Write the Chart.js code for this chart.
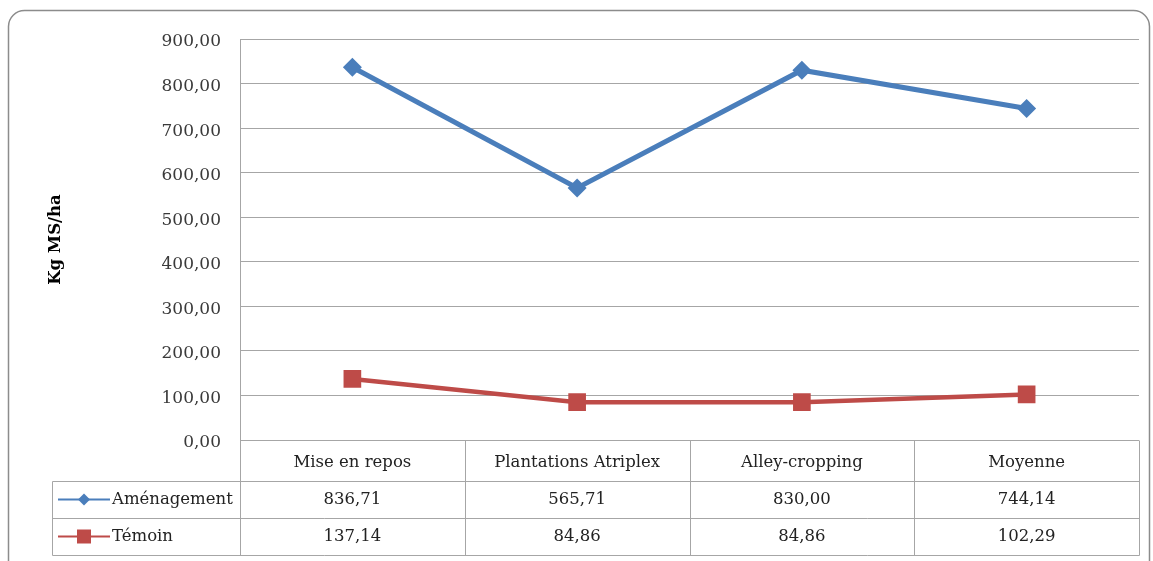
<!DOCTYPE html>
<html>
<head>
<meta charset="utf-8">
<title>Kg MS/ha</title>
<script src="https://cdn.jsdelivr.net/npm/chart.js"></script>
<style>
  html, body { margin: 0; padding: 0; background: #fff; }
  canvas { display: block; }
</style>
</head>
<body>
<canvas id="chart" width="1153" height="561"></canvas>
<script>
const categories = ['Mise en repos', 'Plantations Atriplex', 'Alley-cropping', 'Moyenne'];
const seriesNames = ['Aménagement', 'Témoin'];
const amenagement = [836.71, 565.71, 830.00, 744.14];
const temoin = [137.14, 84.86, 84.86, 102.29];
const yTicks = [0, 100, 200, 300, 400, 500, 600, 700, 800, 900];

const BLUE = '#4a7ebb';
const RED = '#be4b48';
const GRID = '#a6a6a6';
const SERIF = '"DejaVu Serif", serif';

const fmt = v => v.toFixed(2).replace('.', ',');

// rounded frame around the whole chart (Excel style)
const framePlugin = {
  id: 'frame',
  beforeDraw(chart) {
    const ctx = chart.ctx;
    ctx.save();
    ctx.strokeStyle = '#8c8c8c';
    ctx.lineWidth = 1.5;
    const x = 8.5, y = 10.5, w = 1141, h = 600, r = 16;
    ctx.beginPath();
    ctx.moveTo(x + r, y);
    ctx.lineTo(x + w - r, y);
    ctx.arcTo(x + w, y, x + w, y + r, r);
    ctx.lineTo(x + w, y + h);
    ctx.lineTo(x, y + h);
    ctx.lineTo(x, y + r);
    ctx.arcTo(x, y, x + r, y, r);
    ctx.stroke();
    ctx.restore();
  }
};

// data table under the plot, driven by the x scale
const tablePlugin = {
  id: 'dataTable',
  afterDraw(chart) {
    const ctx = chart.ctx;
    const xs = chart.scales.x;
    const area = chart.chartArea;
    const step = xs.getPixelForValue(1) - xs.getPixelForValue(0);
    const top = area.bottom;
    const rowH = [41, 37, 37];
    const y1 = top + rowH[0], y2 = y1 + rowH[1], y3 = y2 + rowH[2];
    const leftX = 52;

    ctx.save();
    ctx.strokeStyle = GRID;
    ctx.lineWidth = 1;
    const line = (ax, ay, bx, by) => {
      ctx.beginPath();
      ctx.moveTo(Math.round(ax) + 0.5, Math.round(ay) + 0.5);
      ctx.lineTo(Math.round(bx) + 0.5, Math.round(by) + 0.5);
      ctx.stroke();
    };
    // horizontal lines
    line(area.left, y1, area.right, y1);
    line(leftX, y1, area.left, y1);
    line(leftX, y2, area.right, y2);
    line(leftX, y3, area.right, y3);
    // vertical lines
    line(leftX, y1, leftX, y3);
    line(area.left, top, area.left, y3);
    categories.forEach((c, i) => {
      const bx = xs.getPixelForValue(i) + step / 2;
      line(bx, top, bx, y3);
    });

    ctx.fillStyle = '#222';
    ctx.font = '16.5px ' + SERIF;
    ctx.textAlign = 'center';
    ctx.textBaseline = 'middle';
    categories.forEach((c, i) => {
      const cx = xs.getPixelForValue(i);
      ctx.fillText(c, cx, top + rowH[0] / 2 + 2);
      ctx.fillText(fmt(amenagement[i]), cx, y1 + rowH[1] / 2);
      ctx.fillText(fmt(temoin[i]), cx, y2 + rowH[2] / 2);
    });

    // legend keys in the first column
    const keys = [
      { ds: chart.data.datasets[0], y: y1 + rowH[1] / 2 },
      { ds: chart.data.datasets[1], y: y2 + rowH[2] / 2 }
    ];
    keys.forEach(k => {
      ctx.strokeStyle = k.ds.borderColor;
      ctx.lineWidth = 2;
      ctx.beginPath();
      ctx.moveTo(58, k.y);
      ctx.lineTo(110, k.y);
      ctx.stroke();
      ctx.fillStyle = k.ds.backgroundColor;
      ctx.beginPath();
      if (k.ds.pointStyle === 'rectRot') {
        ctx.moveTo(84, k.y - 6); ctx.lineTo(90, k.y); ctx.lineTo(84, k.y + 6); ctx.lineTo(78, k.y);
      } else {
        ctx.rect(77, k.y - 7, 14, 14);
      }
      ctx.closePath();
      ctx.fill();
      ctx.fillStyle = '#222';
      ctx.textAlign = 'left';
      ctx.fillText(k.ds.label, 112, k.y);
    });
    ctx.restore();
  }
};

new Chart(document.getElementById('chart'), {
  type: 'line',
  data: {
    labels: categories,
    datasets: [
      {
        label: seriesNames[0],
        data: amenagement,
        borderColor: BLUE,
        backgroundColor: BLUE,
        borderWidth: 5,
        pointStyle: 'rectRot',
        pointRadius: 9.5,
        pointBorderWidth: 0,
        tension: 0
      },
      {
        label: seriesNames[1],
        data: temoin,
        borderColor: RED,
        backgroundColor: RED,
        borderWidth: 4.5,
        pointStyle: 'rect',
        pointRadius: 12.5,
        pointBorderWidth: 0,
        tension: 0
      }
    ]
  },
  options: {
    responsive: false,
    animation: false,
    devicePixelRatio: 1,
    layout: { padding: { top: 39, right: 14, bottom: 121, left: 0 } },
    plugins: {
      legend: { display: false },
      tooltip: { enabled: false }
    },
    scales: {
      x: {
        type: 'category',
        offset: true,
        display: false
      },
      y: {
        min: 0,
        max: 900,
        afterBuildTicks(scale) {
          scale.ticks = yTicks.map(v => ({ value: v }));
        },
        afterFit(scale) { scale.width = 240; },
        grid: { color: GRID, lineWidth: 1, drawTicks: false },
        border: { color: GRID, width: 1 },
        ticks: {
          padding: 19,
          labelOffset: 3,
          color: '#3a3a3a',
          font: { family: SERIF, size: 17 },
          callback: v => fmt(v)
        },
        title: {
          display: true,
          text: 'Kg MS/ha',
          color: '#000',
          font: { family: SERIF, size: 16.5, weight: 'bold' },
          padding: { top: 46, bottom: 0 }
        }
      }
    }
  },
  plugins: [framePlugin, tablePlugin]
});
</script>
</body>
</html>
